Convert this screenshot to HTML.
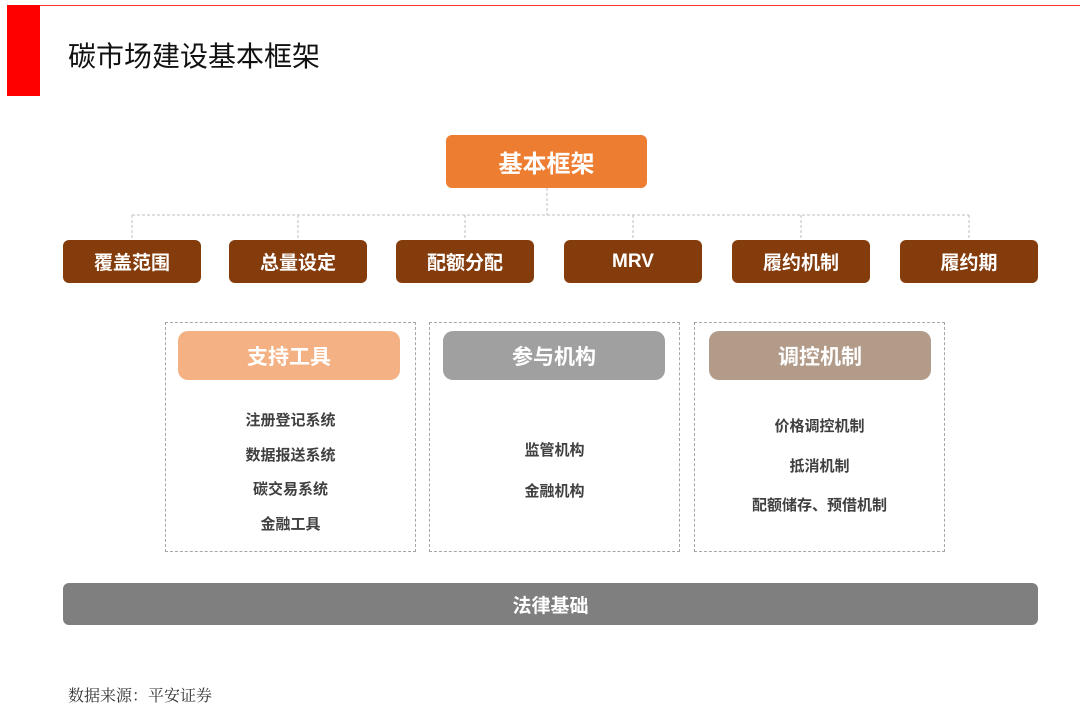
<!DOCTYPE html>
<html><head><meta charset="utf-8"><style>
body{margin:0;width:1080px;height:720px;background:#fff;position:relative;overflow:hidden;font-family:"Liberation Sans","Noto Sans CJK SC",sans-serif}
.a{position:absolute;box-sizing:border-box}
.b{display:flex;align-items:center;justify-content:center;font-weight:bold;color:#fff;border-radius:6px}
.br{background:#843C0C;top:240px;height:43px;width:138px;font-size:19px}
.dash{border:1.5px dashed #a6a6a6;top:322px;height:230px;width:251px}
.hd{top:331px;height:49px;width:222px;font-size:21px;border-radius:10px}
.t{font-size:15px;font-weight:bold;color:#404040;text-align:center}
</style></head><body>
<div class="a" style="left:7px;top:5px;width:33px;height:91px;background:#f00"></div>
<div class="a" style="left:40px;top:5px;width:1040px;height:1px;background:#f33"></div>
<div class="a" style="left:68px;top:35px;font-size:28px;color:#111">碳市场建设基本框架</div>
<div class="a b" style="left:446px;top:135px;width:201px;height:53px;background:#ED7D31;font-size:24px">基本框架</div>
<svg class="a" style="left:0;top:0" width="1080" height="720">
<g stroke="#bfbfbf" stroke-width="1" stroke-dasharray="3,2" fill="none">
<line x1="547" y1="188" x2="547" y2="215"/>
<line x1="132" y1="215" x2="969" y2="215"/>
<line x1="132" y1="215" x2="132" y2="240"/>
<line x1="298" y1="215" x2="298" y2="240"/>
<line x1="465" y1="215" x2="465" y2="240"/>
<line x1="633" y1="215" x2="633" y2="240"/>
<line x1="801" y1="215" x2="801" y2="240"/>
<line x1="969" y1="215" x2="969" y2="240"/>
</g></svg>
<div class="a b br" style="left:63px">覆盖范围</div>
<div class="a b br" style="left:229px">总量设定</div>
<div class="a b br" style="left:396px">配额分配</div>
<div class="a b br" style="left:564px">MRV</div>
<div class="a b br" style="left:732px">履约机制</div>
<div class="a b br" style="left:900px">履约期</div>
<div class="a dash" style="left:165px"></div>
<div class="a dash" style="left:429px"></div>
<div class="a dash" style="left:694px"></div>
<div class="a b hd" style="left:178px;background:#F4B183">支持工具</div>
<div class="a b hd" style="left:443px;background:#A0A0A0">参与机构</div>
<div class="a b hd" style="left:709px;background:#B39B8A">调控机制</div>
<div class="a t" style="left:165px;width:251px;top:404px;line-height:34.5px">注册登记系统<br>数据报送系统<br>碳交易系统<br>金融工具</div>
<div class="a t" style="left:429px;width:251px;top:430px;line-height:41px">监管机构<br>金融机构</div>
<div class="a t" style="left:694px;width:251px;top:407px;line-height:39.5px">价格调控机制<br>抵消机制<br>配额储存、预借机制</div>
<div class="a b" style="left:63px;top:583px;width:975px;height:42px;background:#7F7F7F;font-size:19px">法律基础</div>
<div class="a" style="left:68px;top:683px;font-size:16px;color:#333;font-family:'Liberation Serif','Noto Serif CJK SC',serif">数据来源：平安证券</div>
</body></html>
